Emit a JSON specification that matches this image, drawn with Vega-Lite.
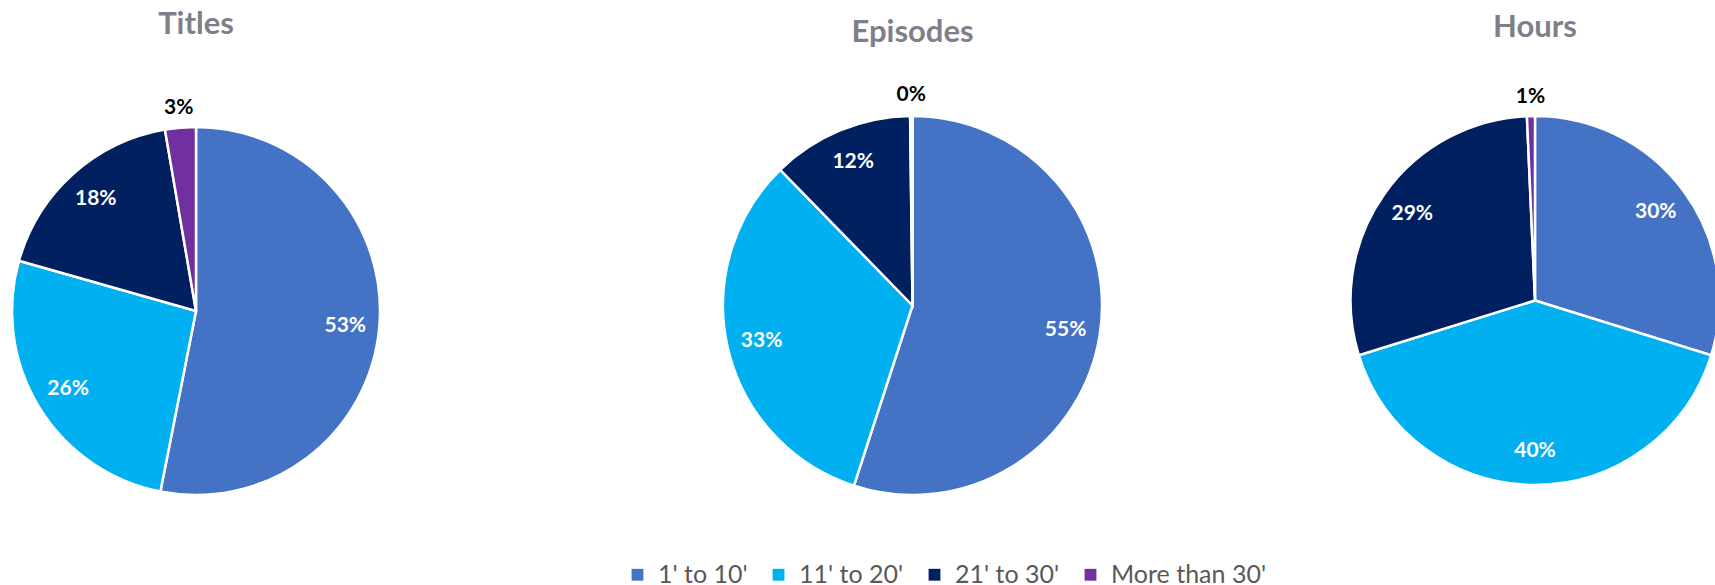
{
  "$schema": "https://vega.github.io/schema/vega-lite/v6.json",
  "padding": {"left": 0, "top": 9, "right": 0, "bottom": 0},
  "background": "white",
  "spacing": 0,
  "bounds": "flush",
  "config": {"view": {"stroke": null}},
  "resolve": {"scale": {"color": "shared"}, "legend": {"color": "shared"}},
  "hconcat": [
    {
      "width": 392, "height": 458,
      "title": {"text": "Titles", "font": "Lato", "fontSize": 31, "fontWeight": "bold", "color": "#7f7f8a", "baseline": "alphabetic", "offset": 17, "anchor": "middle"},
      "data": {"values": [
        {"i": 1, "range": "1' to 10'", "share": 0.531},
        {"i": 2, "range": "11' to 20'", "share": 0.263},
        {"i": 3, "range": "21' to 30'", "share": 0.179},
        {"i": 4, "range": "More than 30'", "share": 0.027}
      ]},
      "encoding": {
        "theta": {"field": "share", "type": "quantitative", "stack": true},
        "order": {"field": "i", "type": "quantitative"}
      },
      "layer": [
        {"mark": {"type": "arc", "radius": 184, "stroke": "white", "strokeWidth": 2.5},
         "encoding": {"color": {"field": "range", "type": "nominal",
           "scale": {"domain": ["1' to 10'", "11' to 20'", "21' to 30'", "More than 30'"], "range": ["#4472C4", "#00B0F0", "#002060", "#7030A0"]},
           "legend": {"title": null, "orient": "none", "direction": "horizontal", "legendX": 625, "legendY": 480, "symbolType": "square", "symbolSize": 140, "symbolStrokeWidth": 0, "labelFont": "Lato", "labelFontSize": 25, "labelColor": "#595959", "labelOffset": 8, "columnPadding": 18, "padding": 0}}}},
        {"mark": {"type": "text", "radius": 150, "font": "Lato", "fontSize": 21, "fontWeight": "bold", "color": "white"},
         "encoding": {"text": {"field": "share", "type": "quantitative", "format": ".0%"},
           "opacity": {"condition": {"test": "datum.share < 0.05", "value": 0}, "value": 1}}},
        {"mark": {"type": "text", "radius": 204, "font": "Lato", "fontSize": 21, "fontWeight": "bold", "color": "#000000"},
         "encoding": {"text": {"field": "share", "type": "quantitative", "format": ".0%"},
           "opacity": {"condition": {"test": "datum.share < 0.05", "value": 1}, "value": 0}}}
      ]
    },
    {
      "width": 1041, "height": 447,
      "title": {"text": "Episodes", "font": "Lato", "fontSize": 31, "fontWeight": "bold", "color": "#7f7f8a", "baseline": "alphabetic", "offset": 9.5, "anchor": "middle"},
      "data": {"values": [
        {"i": 1, "range": "1' to 10'", "share": 0.550},
        {"i": 2, "range": "11' to 20'", "share": 0.327},
        {"i": 3, "range": "21' to 30'", "share": 0.121},
        {"i": 4, "range": "More than 30'", "share": 0.002}
      ]},
      "encoding": {
        "theta": {"field": "share", "type": "quantitative", "stack": true},
        "order": {"field": "i", "type": "quantitative"}
      },
      "layer": [
        {"mark": {"type": "arc", "radius": 189.5, "stroke": "white", "strokeWidth": 2.5},
         "encoding": {"color": {"field": "range", "type": "nominal",
           "scale": {"domain": ["1' to 10'", "11' to 20'", "21' to 30'", "More than 30'"], "range": ["#4472C4", "#00B0F0", "#002060", "#7030A0"]},
           "legend": {"title": null, "orient": "none", "direction": "horizontal", "legendX": 625, "legendY": 480, "symbolType": "square", "symbolSize": 140, "symbolStrokeWidth": 0, "labelFont": "Lato", "labelFontSize": 25, "labelColor": "#595959", "labelOffset": 8, "columnPadding": 18, "padding": 0}}}},
        {"mark": {"type": "text", "radius": 155, "font": "Lato", "fontSize": 21, "fontWeight": "bold", "color": "white"},
         "encoding": {"text": {"field": "share", "type": "quantitative", "format": ".0%"},
           "opacity": {"condition": {"test": "datum.share < 0.05", "value": 0}, "value": 1}}},
        {"mark": {"type": "text", "radius": 211, "font": "Lato", "fontSize": 21, "fontWeight": "bold", "color": "#000000"},
         "encoding": {"text": {"field": "share", "type": "quantitative", "format": ".0%"},
           "opacity": {"condition": {"test": "datum.share < 0.05", "value": 1}, "value": 0}}}
      ]
    },
    {
      "width": 204, "height": 437,
      "title": {"text": "Hours", "font": "Lato", "fontSize": 31, "fontWeight": "bold", "color": "#7f7f8a", "baseline": "alphabetic", "offset": 14, "anchor": "middle"},
      "data": {"values": [
        {"i": 1, "range": "1' to 10'", "share": 0.298},
        {"i": 2, "range": "11' to 20'", "share": 0.404},
        {"i": 3, "range": "21' to 30'", "share": 0.291},
        {"i": 4, "range": "More than 30'", "share": 0.007}
      ]},
      "encoding": {
        "theta": {"field": "share", "type": "quantitative", "stack": true},
        "order": {"field": "i", "type": "quantitative"}
      },
      "layer": [
        {"mark": {"type": "arc", "radius": 184.5, "stroke": "white", "strokeWidth": 2.5},
         "encoding": {"color": {"field": "range", "type": "nominal",
           "scale": {"domain": ["1' to 10'", "11' to 20'", "21' to 30'", "More than 30'"], "range": ["#4472C4", "#00B0F0", "#002060", "#7030A0"]},
           "legend": {"title": null, "orient": "none", "direction": "horizontal", "legendX": 625, "legendY": 480, "symbolType": "square", "symbolSize": 140, "symbolStrokeWidth": 0, "labelFont": "Lato", "labelFontSize": 25, "labelColor": "#595959", "labelOffset": 8, "columnPadding": 18, "padding": 0}}}},
        {"mark": {"type": "text", "radius": 150, "font": "Lato", "fontSize": 21, "fontWeight": "bold", "color": "white"},
         "encoding": {"text": {"field": "share", "type": "quantitative", "format": ".0%"},
           "opacity": {"condition": {"test": "datum.share < 0.05", "value": 0}, "value": 1}}},
        {"mark": {"type": "text", "radius": 204, "font": "Lato", "fontSize": 21, "fontWeight": "bold", "color": "#000000"},
         "encoding": {"text": {"field": "share", "type": "quantitative", "format": ".0%"},
           "opacity": {"condition": {"test": "datum.share < 0.05", "value": 1}, "value": 0}}}
      ]
    }
  ]
}
